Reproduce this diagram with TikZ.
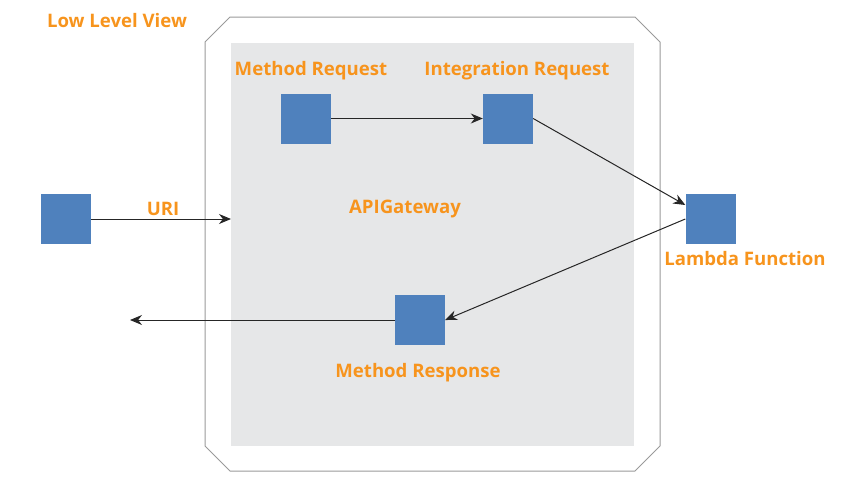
\documentclass[tikz,border=0pt]{standalone}
\usepackage{fontspec}
\setmainfont{Open Sans}
\usetikzlibrary{arrows.meta}
\definecolor{lblorange}{HTML}{F7941D}
\definecolor{boxblue}{HTML}{4F81BD}
\definecolor{gwgray}{HTML}{E6E7E8}
\definecolor{framegray}{HTML}{9A9A9A}
\tikzset{
  blk/.style={fill=boxblue, draw=none, minimum width=50pt, minimum height=50pt, inner sep=0pt},
  lbl/.style={text=lblorange, font=\fontsize{18.6}{22}\selectfont\bfseries, inner sep=0pt},
  conn/.style={draw=black!85, line width=1pt, -{Stealth[length=12pt,width=10pt]}}
}
\begin{document}
\begin{tikzpicture}[x=1pt,y=-1pt]
\useasboundingbox (0,0) rectangle (841,488);
% outer frame
\draw[framegray, line width=1pt] (230,17) -- (635,17) -- (660,42) -- (660,446) -- (635,471) -- (230,471) -- (205,446) -- (205,42) -- cycle;
% gateway area
\node[fill=gwgray, draw=none, minimum width=403pt, minimum height=403pt, inner sep=0pt] (gw) at (432.5,244.5) {};
% boxes
\node[blk] (client) at (66,219) {};
\node[blk] (mreq) at (306,118.5) {};
\node[blk] (ireq) at (508,118.5) {};
\node[blk] (lam) at (710.5,219) {};
\node[blk] (mresp) at (420,320) {};
% labels
\node[lbl] (lowview) at (117,21) {Low Level View};
\node[lbl] (mreqlbl) at (311,71) {Method Request};
\node[lbl] (ireqlbl) at (517,71) {Integration Request};
\node[lbl] (gwlbl) at (405,209) {APIGateway};
\node[lbl] (urilbl) at (163,209) {URI};
\node[lbl] (lamlbl) at (745,259) {Lambda Function};
\node[lbl] (mresplbl) at (418,373) {Method Response};
% connector ends
\coordinate (uriend) at (231,219);
\coordinate (outend) at (130,320);
% connectors
\draw[conn] (client.east) -- (uriend);
\draw[conn] (mreq.east) -- (ireq.west);
\draw[conn] (ireq.east) -- ([yshift=14pt]lam.west);
\draw[conn] (lam.west) -- (mresp.east);
\draw[conn] (mresp.west) -- (outend);
\end{tikzpicture}
\end{document}
